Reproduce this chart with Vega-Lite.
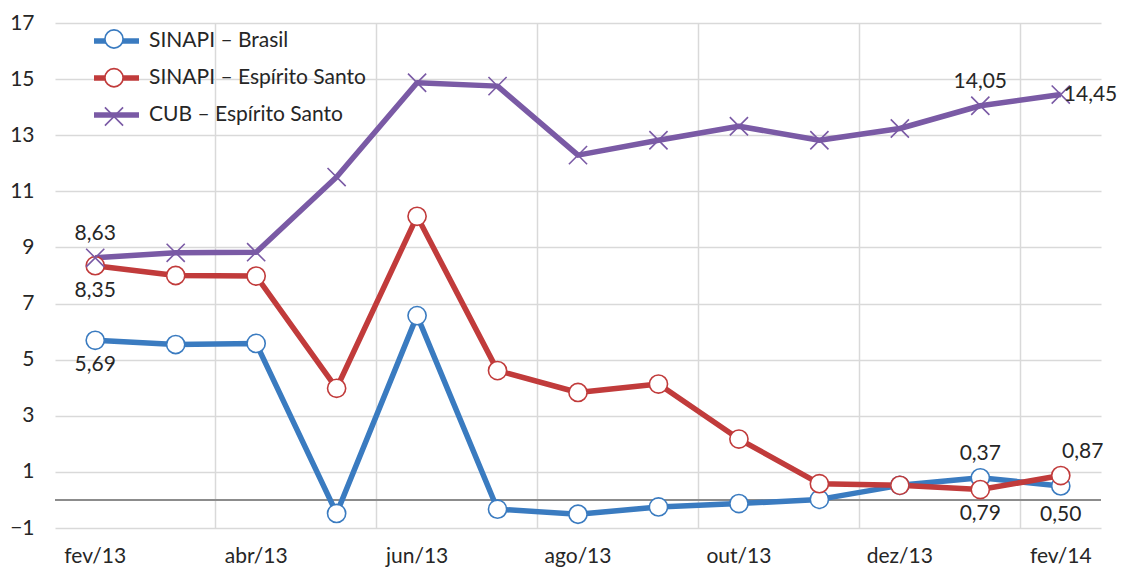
{
  "$schema": "https://vega.github.io/schema/vega-lite/v6.json",
  "autosize": {"type": "none"},
  "width": 1046,
  "height": 505,
  "padding": {"left": 55, "top": 23, "right": 21, "bottom": 40},
  "background": "white",
  "config": {
    "font": "Lato",
    "view": {"stroke": null},
    "locale": {"number": {"decimal": ",", "thousands": ".", "grouping": [3], "currency": ["R$", ""]}}
  },
  "data": {
    "values": [
      {"m": "fev/13", "s": "SINAPI – Brasil", "v": 5.69},
      {"m": "mar/13", "s": "SINAPI – Brasil", "v": 5.54},
      {"m": "abr/13", "s": "SINAPI – Brasil", "v": 5.58},
      {"m": "mai/13", "s": "SINAPI – Brasil", "v": -0.48},
      {"m": "jun/13", "s": "SINAPI – Brasil", "v": 6.57},
      {"m": "jul/13", "s": "SINAPI – Brasil", "v": -0.33},
      {"m": "ago/13", "s": "SINAPI – Brasil", "v": -0.51},
      {"m": "set/13", "s": "SINAPI – Brasil", "v": -0.25},
      {"m": "out/13", "s": "SINAPI – Brasil", "v": -0.13},
      {"m": "nov/13", "s": "SINAPI – Brasil", "v": 0.02},
      {"m": "dez/13", "s": "SINAPI – Brasil", "v": 0.52},
      {"m": "jan/14", "s": "SINAPI – Brasil", "v": 0.79},
      {"m": "fev/14", "s": "SINAPI – Brasil", "v": 0.50},
      {"m": "fev/13", "s": "SINAPI – Espírito Santo", "v": 8.35},
      {"m": "mar/13", "s": "SINAPI – Espírito Santo", "v": 8.00},
      {"m": "abr/13", "s": "SINAPI – Espírito Santo", "v": 7.98},
      {"m": "mai/13", "s": "SINAPI – Espírito Santo", "v": 3.98},
      {"m": "jun/13", "s": "SINAPI – Espírito Santo", "v": 10.11},
      {"m": "jul/13", "s": "SINAPI – Espírito Santo", "v": 4.61},
      {"m": "ago/13", "s": "SINAPI – Espírito Santo", "v": 3.83},
      {"m": "set/13", "s": "SINAPI – Espírito Santo", "v": 4.13},
      {"m": "out/13", "s": "SINAPI – Espírito Santo", "v": 2.17},
      {"m": "nov/13", "s": "SINAPI – Espírito Santo", "v": 0.58},
      {"m": "dez/13", "s": "SINAPI – Espírito Santo", "v": 0.52},
      {"m": "jan/14", "s": "SINAPI – Espírito Santo", "v": 0.37},
      {"m": "fev/14", "s": "SINAPI – Espírito Santo", "v": 0.87},
      {"m": "fev/13", "s": "CUB – Espírito Santo", "v": 8.63},
      {"m": "mar/13", "s": "CUB – Espírito Santo", "v": 8.81},
      {"m": "abr/13", "s": "CUB – Espírito Santo", "v": 8.83},
      {"m": "mai/13", "s": "CUB – Espírito Santo", "v": 11.51},
      {"m": "jun/13", "s": "CUB – Espírito Santo", "v": 14.87},
      {"m": "jul/13", "s": "CUB – Espírito Santo", "v": 14.75},
      {"m": "ago/13", "s": "CUB – Espírito Santo", "v": 12.29},
      {"m": "set/13", "s": "CUB – Espírito Santo", "v": 12.82},
      {"m": "out/13", "s": "CUB – Espírito Santo", "v": 13.32},
      {"m": "nov/13", "s": "CUB – Espírito Santo", "v": 12.82},
      {"m": "dez/13", "s": "CUB – Espírito Santo", "v": 13.24},
      {"m": "jan/14", "s": "CUB – Espírito Santo", "v": 14.05},
      {"m": "fev/14", "s": "CUB – Espírito Santo", "v": 14.45}
    ]
  },
  "encoding": {
    "x": {
      "field": "m", "type": "nominal", "sort": null, "bandPosition": 0.5,
      "scale": {"type": "band", "paddingInner": 0, "paddingOuter": 0},
      "axis": {
        "title": null,
        "values": ["fev/13", "abr/13", "jun/13", "ago/13", "out/13", "dez/13", "fev/14"],
        "bandPosition": 0,
        "labelAngle": 0,
        "labelAlign": "center",
        "labelFontSize": 21,
        "labelColor": "#262626",
        "labelPadding": 17,
        "ticks": false,
        "domain": false,
        "grid": true,
        "gridColor": "#d9d9d9",
        "gridWidth": 1.5,
        "gridOpacity": {"condition": {"test": "datum.value === 'fev/13'", "value": 0}, "value": 1}
      }
    },
    "y": {
      "field": "v", "type": "quantitative",
      "scale": {"domain": [-1, 17], "nice": false, "zero": false},
      "axis": {
        "title": null,
        "values": [-1, 1, 3, 5, 7, 9, 11, 13, 15, 17],
        "labelFontSize": 21,
        "labelColor": "#262626",
        "labelPadding": 21,
        "ticks": false,
        "domain": false,
        "grid": true,
        "gridColor": "#d9d9d9",
        "gridWidth": 1.5
      }
    }
  },
  "layer": [
    {
      "mark": {"type": "rule", "color": "#8c8c8c", "strokeWidth": 1.5},
      "encoding": {"y": {"datum": 0}, "x": null}
    },
    {
      "mark": {"type": "line", "strokeWidth": 5.5, "strokeJoin": "round"},
      "encoding": {
        "color": {
          "field": "s", "type": "nominal",
          "scale": {"domain": ["SINAPI – Brasil", "SINAPI – Espírito Santo", "CUB – Espírito Santo"], "range": ["#3a7bc0", "#c13b3b", "#7a5aa5"]},
          "legend": {
            "title": null, "orient": "none", "legendX": 36, "legendY": -7.5,
            "symbolType": "stroke", "symbolStrokeWidth": 5.5, "symbolSize": 2025,
            "labelFontSize": 21, "labelColor": "#262626", "labelOffset": 7, "labelLimit": 500,
            "rowPadding": -10.3, "padding": 0
          }
        }
      }
    },
    {
      "mark": {"type": "point", "filled": true, "fill": "white", "strokeWidth": 1.6, "size": 330, "opacity": 1},
      "encoding": {
        "stroke": {
          "field": "s", "type": "nominal",
          "sort": ["SINAPI – Brasil", "SINAPI – Espírito Santo", "CUB – Espírito Santo"],
          "scale": {"range": ["#3a7bc0", "#c13b3b", "#7a5aa5"]},
          "legend": {
            "title": null, "orient": "none", "legendX": 49, "legendY": 6,
            "symbolFillColor": "white", "symbolStrokeWidth": 1.6, "symbolSize": 330,
            "symbolType": {"expr": "datum.value === 'CUB – Espírito Santo' ? 'M-1,-1L1,1M-1,1L1,-1' : 'circle'"},
            "labelExpr": "' '", "labelFontSize": 19, "labelOpacity": 0, "labelOffset": 0,
            "rowPadding": 12.75, "gridAlign": "all", "padding": 0,
            "encode": {"symbols": {"fill": {"value": "white"}, "opacity": {"value": 1}}}
          }
        },
        "shape": {
          "field": "s", "type": "nominal",
          "sort": ["SINAPI – Brasil", "SINAPI – Espírito Santo", "CUB – Espírito Santo"],
          "scale": {"range": ["circle", "circle", "M-1,-1L1,1M-1,1L1,-1"]},
          "legend": null
        }
      }
    },
    {
      "transform": [{"filter": "datum.m === 'fev/13' && datum.s === 'CUB – Espírito Santo' || datum.m === 'jan/14' && datum.s === 'CUB – Espírito Santo'"}],
      "mark": {"type": "text", "dy": -24, "fontSize": 21, "color": "#262626"},
      "encoding": {"text": {"field": "v", "type": "quantitative", "format": ".2f"}}
    },
    {
      "transform": [{"filter": "datum.m === 'fev/13' && datum.s !== 'CUB – Espírito Santo'"}],
      "mark": {"type": "text", "dy": 25, "fontSize": 21, "color": "#262626"},
      "encoding": {"text": {"field": "v", "type": "quantitative", "format": ".2f"}}
    },
    {
      "transform": [{"filter": "datum.m === 'jan/14' && datum.s === 'SINAPI – Espírito Santo'"}],
      "mark": {"type": "text", "dy": -36, "fontSize": 21, "color": "#262626"},
      "encoding": {"text": {"field": "v", "type": "quantitative", "format": ".2f"}}
    },
    {
      "transform": [{"filter": "datum.m === 'jan/14' && datum.s === 'SINAPI – Brasil'"}],
      "mark": {"type": "text", "dy": 36, "fontSize": 21, "color": "#262626"},
      "encoding": {"text": {"field": "v", "type": "quantitative", "format": ".2f"}}
    },
    {
      "transform": [{"filter": "datum.m === 'fev/14' && datum.s === 'SINAPI – Brasil'"}],
      "mark": {"type": "text", "dy": 29, "fontSize": 21, "color": "#262626"},
      "encoding": {"text": {"field": "v", "type": "quantitative", "format": ".2f"}}
    },
    {
      "transform": [{"filter": "datum.m === 'fev/14' && datum.s === 'SINAPI – Espírito Santo'"}],
      "mark": {"type": "text", "dx": 22, "dy": -24, "fontSize": 21, "color": "#262626"},
      "encoding": {"text": {"field": "v", "type": "quantitative", "format": ".2f"}}
    },
    {
      "transform": [{"filter": "datum.m === 'fev/14' && datum.s === 'CUB – Espírito Santo'"}],
      "mark": {"type": "text", "align": "left", "dx": 3, "dy": 0, "fontSize": 21, "color": "#262626"},
      "encoding": {"text": {"field": "v", "type": "quantitative", "format": ".2f"}}
    }
  ]
}
